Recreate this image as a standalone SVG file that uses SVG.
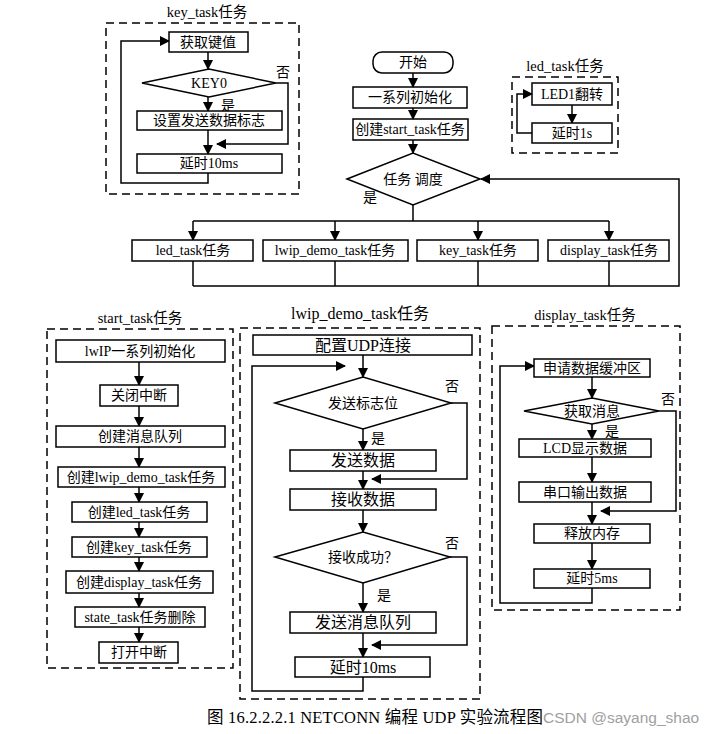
<svg xmlns="http://www.w3.org/2000/svg" width="715" height="734" viewBox="0 0 715 734">
<defs>
<marker id="ah" markerWidth="10" markerHeight="10" refX="9" refY="5" orient="auto" markerUnits="userSpaceOnUse">
<path d="M0,0 L10,5 L0,10 Z" fill="#000"/>
</marker>
<style>
.b{fill:#fff;stroke:#000;stroke-width:1.5}
.d{fill:none;stroke:#000;stroke-width:1.5;stroke-dasharray:8,5}
.l{fill:none;stroke:#000;stroke-width:1.5}
.a{fill:none;stroke:#000;stroke-width:1.5;marker-end:url(#ah)}
text{font-family:"Liberation Serif","Noto Sans CJK SC",serif;font-size:14px;fill:#000}
.c{text-anchor:middle}
.big{font-size:16px}
.t{font-size:14.5px}
</style>
</defs>
<rect width="715" height="734" fill="#fff"/>

<g id="frames">
<rect class="d" x="106" y="23" width="193" height="171"/>
<rect class="d" x="512" y="77" width="106" height="76"/>
<rect class="d" x="47" y="329" width="186" height="339"/>
<rect class="d" x="240" y="328" width="240" height="371"/>
<rect class="d" x="492" y="326" width="188" height="284"/>
<text class="c t" x="207" y="17">key_task任务</text>
<text class="c t" x="565" y="71">led_task任务</text>
<text class="c t" x="140" y="323">start_task任务</text>
<text class="c big" x="360" y="319">lwip_demo_task任务</text>
<text class="c t" x="585" y="320">display_task任务</text>
</g>

<g id="connectors">
<line class="a" x1="208" y1="52" x2="208" y2="69"/>
<line class="a" x1="208" y1="97" x2="208" y2="111"/>
<line class="a" x1="208" y1="130" x2="208" y2="154"/>
<polyline class="a" points="276,83 288,83 288,144 217,144"/>
<polyline class="a" points="208,173 208,183 121,183 121,41 169,41"/>
<line class="a" x1="413" y1="73" x2="413" y2="87"/>
<line class="a" x1="413" y1="108" x2="413" y2="119"/>
<line class="a" x1="413" y1="140" x2="413" y2="153"/>
<line class="l" x1="413" y1="205" x2="413" y2="221"/>
<line class="l" x1="193" y1="221" x2="609" y2="221"/>
<line class="a" x1="193" y1="221" x2="193" y2="240"/>
<line class="a" x1="335" y1="221" x2="335" y2="240"/>
<line class="a" x1="478" y1="221" x2="478" y2="240"/>
<line class="a" x1="609" y1="221" x2="609" y2="240"/>
<line class="l" x1="193" y1="261" x2="193" y2="286"/>
<line class="l" x1="335" y1="261" x2="335" y2="286"/>
<line class="l" x1="478" y1="261" x2="478" y2="286"/>
<line class="l" x1="609" y1="261" x2="609" y2="286"/>
<polyline class="a" points="193,286 679,286 679,179 481,179"/>
<line class="a" x1="572" y1="105" x2="572" y2="123"/>
<polyline class="a" points="532,133 517,133 517,94 532,94"/>
<line class="a" x1="139" y1="362" x2="139" y2="385"/>
<line class="a" x1="139" y1="406" x2="139" y2="426"/>
<line class="a" x1="139" y1="447" x2="139" y2="467"/>
<line class="a" x1="139" y1="487" x2="139" y2="502"/>
<line class="a" x1="139" y1="522" x2="139" y2="537"/>
<line class="a" x1="139" y1="557" x2="139" y2="571"/>
<line class="a" x1="139" y1="593" x2="139" y2="607"/>
<line class="a" x1="139" y1="627" x2="139" y2="642"/>
<line class="a" x1="363" y1="355" x2="363" y2="377"/>
<line class="a" x1="363" y1="429" x2="363" y2="450"/>
<line class="a" x1="363" y1="471" x2="363" y2="489"/>
<polyline class="a" points="451,403 467,403 467,479 372,479"/>
<line class="a" x1="363" y1="510" x2="363" y2="532"/>
<line class="a" x1="363" y1="583" x2="363" y2="612"/>
<line class="a" x1="363" y1="633" x2="363" y2="657"/>
<polyline class="a" points="450,557 467,557 467,645 372,645"/>
<polyline class="a" points="363,677 363,691 252,691 252,366 345,366"/>
<line class="a" x1="592" y1="377" x2="592" y2="398"/>
<line class="a" x1="592" y1="424" x2="592" y2="439"/>
<line class="a" x1="592" y1="457" x2="592" y2="482"/>
<line class="a" x1="592" y1="502" x2="592" y2="524"/>
<polyline class="a" points="659,411 676,411 676,511 601,511"/>
<line class="a" x1="592" y1="543" x2="592" y2="569"/>
<polyline class="a" points="592,588 592,603 500,603 500,366 534,366"/>
<text x="276" y="77">否</text>
<text x="221" y="110">是</text>
<text x="363" y="202">是</text>
<text x="445" y="391">否</text>
<text x="371" y="443">是</text>
<text x="445" y="548">否</text>
<text x="377" y="600">是</text>
<text x="661" y="404">否</text>
<text x="605" y="436">是</text>
</g>

<g id="k1"><rect class="b" x="169" y="32" width="79" height="20"/><text class="c" x="208" y="47">获取键值</text></g>
<g id="k2"><polygon class="b" points="142,83 209,69 276,83 209,97"/><text class="c" x="209" y="88">KEY0</text></g>
<g id="k3"><rect class="b" x="137" y="111" width="145" height="19"/><text class="c" x="209" y="125">设置发送数据标志</text></g>
<g id="k4"><rect class="b" x="137" y="154" width="145" height="19"/><text class="c" x="209" y="168">延时10ms</text></g>

<g id="m0"><rect class="b" x="373" y="52" width="80" height="21" rx="9"/><text class="c" x="413" y="67">开始</text></g>
<g id="m1"><rect class="b" x="353" y="87" width="114" height="21"/><text class="c" x="410" y="102">一系列初始化</text></g>
<g id="m2"><rect class="b" x="353" y="119" width="115" height="21"/><text class="c" x="410" y="134">创建start_task任务</text></g>
<g id="m3"><polygon class="b" points="347,179 413,153 480,179 413,205"/><text class="c" x="413" y="184">任务 调度</text></g>
<g id="t1"><rect class="b" x="132" y="240" width="121" height="21"/><text class="c" x="193" y="255">led_task任务</text></g>
<g id="t2"><rect class="b" x="263" y="240" width="145" height="21"/><text class="c" x="335" y="255">lwip_demo_task任务</text></g>
<g id="t3"><rect class="b" x="417" y="240" width="121" height="21"/><text class="c" x="478" y="255">key_task任务</text></g>
<g id="t4"><rect class="b" x="548" y="240" width="121" height="21"/><text class="c" x="609" y="255">display_task任务</text></g>

<g id="l1"><rect class="b" x="532" y="83" width="80" height="22"/><text class="c" x="572" y="99">LED1翻转</text></g>
<g id="l2"><rect class="b" x="532" y="123" width="80" height="20"/><text class="c" x="572" y="138">延时1s</text></g>

<g id="s1"><rect class="b" x="56" y="340" width="169" height="22"/><text class="c" x="140" y="356">lwIP一系列初始化</text></g>
<g id="s2"><rect class="b" x="100" y="385" width="78" height="21"/><text class="c" x="139" y="400">关闭中断</text></g>
<g id="s3"><rect class="b" x="56" y="426" width="169" height="21"/><text class="c" x="140" y="441">创建消息队列</text></g>
<g id="s4"><rect class="b" x="58" y="467" width="167" height="20"/><text class="c" x="141" y="482">创建lwip_demo_task任务</text></g>
<g id="s5"><rect class="b" x="72" y="502" width="135" height="20"/><text class="c" x="139" y="517">创建led_task任务</text></g>
<g id="s6"><rect class="b" x="72" y="537" width="135" height="20"/><text class="c" x="139" y="552">创建key_task任务</text></g>
<g id="s7"><rect class="b" x="66" y="571" width="147" height="22"/><text class="c" x="139" y="587">创建display_task任务</text></g>
<g id="s8"><rect class="b" x="75" y="607" width="130" height="20"/><text class="c" x="140" y="622">state_task任务删除</text></g>
<g id="s9"><rect class="b" x="99" y="642" width="79" height="21"/><text class="c" x="139" y="657">打开中断</text></g>

<g id="w1"><rect class="b" x="253" y="335" width="219" height="20"/><text class="c big" x="363" y="351">配置UDP连接</text></g>
<g id="w2"><polygon class="b" points="275,403 363,377 451,403 363,429"/><text class="c" x="363" y="408">发送标志位</text></g>
<g id="w3"><rect class="b" x="290" y="450" width="146" height="21"/><text class="c big" x="363" y="466">发送数据</text></g>
<g id="w4"><rect class="b" x="290" y="489" width="146" height="21"/><text class="c big" x="363" y="505">接收数据</text></g>
<g id="w5"><polygon class="b" points="275,557 363,532 450,557 363,583"/><text class="c" x="363" y="562">接收成功？</text></g>
<g id="w6"><rect class="b" x="290" y="612" width="146" height="21"/><text class="c big" x="363" y="628">发送消息队列</text></g>
<g id="w7"><rect class="b" x="295" y="657" width="135" height="20"/><text class="c big" x="363" y="673">延时10ms</text></g>

<g id="p1"><rect class="b" x="534" y="359" width="116" height="18"/><text class="c" x="592" y="373">申请数据缓冲区</text></g>
<g id="p2"><polygon class="b" points="524,411 592,398 659,411 592,424"/><text class="c" x="592" y="416">获取消息</text></g>
<g id="p3"><rect class="b" x="519" y="439" width="132" height="18"/><text class="c" x="585" y="453">LCD显示数据</text></g>
<g id="p4"><rect class="b" x="519" y="482" width="132" height="20"/><text class="c" x="585" y="497">串口输出数据</text></g>
<g id="p5"><rect class="b" x="534" y="524" width="116" height="19"/><text class="c" x="592" y="538">释放内存</text></g>
<g id="p6"><rect class="b" x="534" y="569" width="116" height="19"/><text class="c" x="592" y="583">延时5ms</text></g>

<g id="caption">
<text x="207" y="723" style="font-size:16.5px" textLength="336" lengthAdjust="spacing">图 16.2.2.2.1 NETCONN 编程 UDP 实验流程图</text>
<text x="543" y="723" style="font-family:'Liberation Sans','Noto Sans CJK SC',sans-serif;font-size:15.5px;fill:#a0a0a0">CSDN @sayang_shao</text>
</g>
</svg>
